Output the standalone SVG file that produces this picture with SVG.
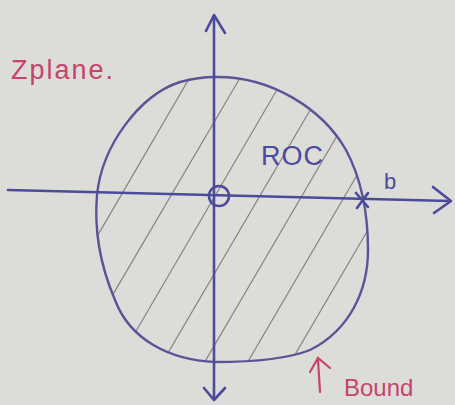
<svg xmlns="http://www.w3.org/2000/svg" width="455" height="405" viewBox="0 0 455 405">
<style>
.ink{fill:none;stroke:#4b4a9c;stroke-width:2.6;stroke-linecap:round;stroke-linejoin:round}
.bnd{fill:none;stroke:#5a5496;stroke-width:2.4}
.hatch{stroke:#8c7f86;stroke-width:1.2;fill:none}
.red{fill:#c8436a;font-family:"Liberation Sans",sans-serif}
.blue{fill:#4b4a9c;font-family:"Liberation Sans",sans-serif}
</style>
<defs>
<clipPath id="roc">
<path d="M215,77 C270,76 322,108 346,150 C362,180 368,215 368,250 C368,290 350,330 310,350 C285,360 250,362 215,362 C170,360 130,340 115,300 C100,265 94,230 97,195 C102,145 140,95 180,82 C195,78 205,77 215,77 Z"/>
</clipPath>
</defs>
<rect width="455" height="405" fill="#dcdcd9"/>
<g id="hatching" clip-path="url(#roc)">
<g class="hatch">
<line x1="60" y1="300" x2="200" y2="60"/>
<line x1="95" y1="325" x2="240" y2="78"/>
<line x1="125" y1="350" x2="278" y2="88"/>
<line x1="158" y1="370" x2="316" y2="100"/>
<line x1="200" y1="370" x2="358" y2="100"/>
<line x1="243" y1="370" x2="401" y2="100"/>
<line x1="286" y1="370" x2="444" y2="100"/>
<line x1="325" y1="370" x2="483" y2="100"/>
</g>
</g>
<g id="boundary">
<path class="bnd" d="M215,77 C270,76 322,108 346,150 C362,180 368,215 368,250 C368,290 350,330 310,350 C285,360 250,362 215,362 C170,360 130,340 115,300 C100,265 94,230 97,195 C102,145 140,95 180,82 C195,78 205,77 215,77 Z"/>
</g>
<g id="connectors">
<path class="ink" d="M8,190 L450,201"/>
<path class="ink" d="M433,187 L451,201 L434,213"/>
<path class="ink" d="M214,16 L214,398"/>
<path class="ink" d="M206,31 L214,15 L225,33"/>
<path class="ink" d="M204,388 L214,400 L225,388"/>
</g>
<g id="origin">
<circle cx="219" cy="196" r="10" class="ink"/>
</g>
<g id="pole">
<path class="ink" d="M356,193 L368,207 M368,193 L357,208"/>
<text x="384" y="189" class="blue" font-size="22">b</text>
</g>
<g id="roc-label">
<text x="261" y="165" class="blue" font-size="27" letter-spacing="1">ROC</text>
</g>
<g id="zplane-label">
<text x="11" y="79" class="red" font-size="27" letter-spacing="2">Zplane.</text>
</g>
<g id="bound-label">
<path d="M320,392 L318,360 M310,372 L318,358 L330,368" fill="none" stroke="#c8436a" stroke-width="2.2" stroke-linecap="round"/>
<text x="344" y="396" class="red" font-size="24">Bound</text>
</g>
</svg>
